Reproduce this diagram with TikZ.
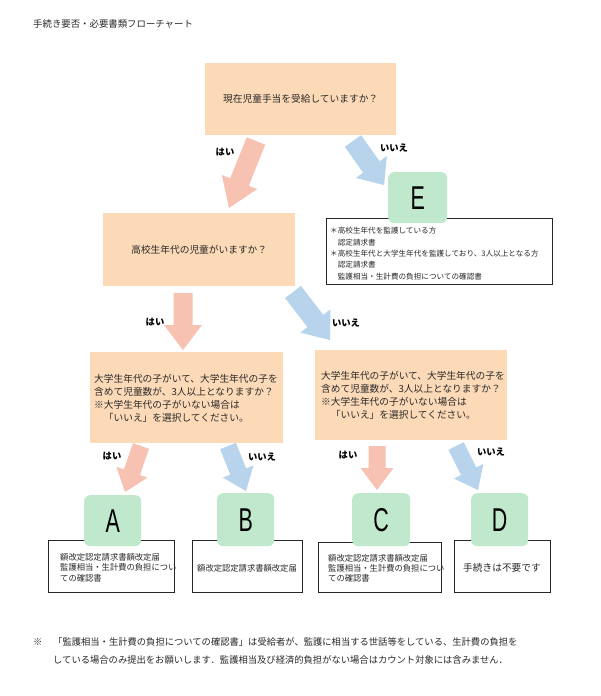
\documentclass[tikz,border=0pt]{standalone}
\usepackage{fontspec}
\usepackage{graphicx}
\setmainfont{Noto Sans CJK JP}
\newfontfamily\letterfont{Liberation Sans}
\usetikzlibrary{calc}
\definecolor{peach}{RGB}{252,218,184}
\definecolor{pinkarrow}{RGB}{248,194,178}
\definecolor{bluearrow}{RGB}{184,211,236}
\definecolor{mint}{RGB}{192,232,205}
\definecolor{textgray}{RGB}{40,40,40}
\newcommand{\blockarrow}[6]{% color, tail, tip, shaft half width, head half width, head length
  \coordinate (ba-base) at ($(#3)!#6!(#2)$);
  \fill[#1] ($(#2)!#4!90:(#3)$) -- ($(ba-base)!#4!90:(#3)$) -- ($(ba-base)!#5!90:(#3)$) -- (#3)
    -- ($(ba-base)!#5!-90:(#3)$) -- ($(ba-base)!#4!-90:(#3)$) -- ($(#2)!#4!-90:(#3)$) -- cycle;
}
\begin{document}
\begin{tikzpicture}[x=1pt,y=-1pt,
  qbox/.style={fill=peach, draw=none, inner sep=0pt, anchor=north west},
  docbox/.style={draw=black!85, line width=0.8pt, fill=white, inner sep=0pt, anchor=north west},
  letterbox/.style={fill=mint, rounded corners=6pt, inner sep=0pt, anchor=north west,
    font=\letterfont\fontsize{33}{33}\selectfont},
  lbl/.style={font=\fontsize{9.3}{9.3}\selectfont\bfseries, inner sep=0pt},
  qtext/.style={font=\fontsize{9.7}{9.7}\selectfont, text=textgray, inner sep=0pt},
  ltext/.style={font=\fontsize{9.7}{9.7}\selectfont, text=textgray, inner sep=0pt, anchor=west},
  etext/.style={font=\fontsize{7.6}{7.6}\selectfont, text=textgray, inner sep=0pt, anchor=west},
  dtext/.style={font=\fontsize{8.3}{8.3}\selectfont, text=textgray, inner sep=0pt, anchor=west},
  ftext/.style={font=\fontsize{9.3}{9.3}\selectfont, text=textgray, inner sep=0pt, anchor=west}
]
\useasboundingbox[fill=white] (0,0) rectangle (600,696);

% title
\node[ftext, font=\fontsize{9.4}{9.4}\selectfont] (title) at (33,24) {手続き要否・必要書類フローチャート};

% question boxes
\node[qbox, minimum width=191pt, minimum height=72pt] (q1) at (205,63) {};
\node[qtext] (q1t) at (q1.center) {現在児童手当を受給していますか？};

\node[qbox, minimum width=192pt, minimum height=73pt] (q2) at (103,213) {};
\node[qtext] (q2t) at (q2.center) {高校生年代の児童がいますか？};

\node[qbox, minimum width=193pt, minimum height=91pt] (q3l) at (90,352) {};
\node[ltext] (q3l1) at (94,379) {大学生年代の子がいて、大学生年代の子を};
\node[ltext] (q3l2) at (94,392) {含めて児童数が、3人以上となりますか？};
\node[ltext] (q3l3) at (94,405) {※大学生年代の子がいない場合は};
\node[ltext] (q3l4) at (94,418) {\hspace*{9.7pt}「いいえ」を選択してください。};

\node[qbox, minimum width=192pt, minimum height=90pt] (q3r) at (315,350) {};
\node[ltext] (q3r1) at (321,376) {大学生年代の子がいて、大学生年代の子を};
\node[ltext] (q3r2) at (321,389) {含めて児童数が、3人以上となりますか？};
\node[ltext] (q3r3) at (321,402) {※大学生年代の子がいない場合は};
\node[ltext] (q3r4) at (321,415) {\hspace*{9.7pt}「いいえ」を選択してください。};

% E
\node[docbox, minimum width=226pt, minimum height=66pt] (edoc) at (326,218) {};
\node[letterbox, minimum width=59pt, minimum height=51pt] (E) at (388,172) {\scalebox{0.65}[1]{E}};
\node[etext] (e1) at (330,231) {＊高校生年代を監護している方};
\node[etext] (e2) at (330,242.3) {\hspace*{7.6pt}認定請求書};
\node[etext] (e3) at (330,253.6) {＊高校生年代と大学生年代を監護しており、3人以上となる方};
\node[etext] (e4) at (330,264.9) {\hspace*{7.6pt}認定請求書};
\node[etext] (e5) at (330,276.2) {\hspace*{7.6pt}監護相当・生計費の負担についての確認書};

% A
\node[docbox, minimum width=126pt, minimum height=52pt] (adoc) at (48,540) {};
\node[letterbox, minimum width=57pt, minimum height=51pt] (A) at (84,495) {\scalebox{0.65}[1]{A}};
\node[dtext] (a1) at (60,557) {額改定認定請求書額改定届};
\node[dtext] (a2) at (60,567.5) {監護相当・生計費の負担につい};
\node[dtext] (a3) at (60,578) {ての確認書};

% B
\node[docbox, minimum width=110pt, minimum height=52pt] (bdoc) at (192,540) {};
\node[letterbox, minimum width=57pt, minimum height=53pt] (B) at (217,493) {\scalebox{0.65}[1]{B}};
\node[dtext] (b1) at (197,568) {額改定認定請求書額改定届};

% C
\node[docbox, minimum width=123pt, minimum height=50pt] (cdoc) at (318,542) {};
\node[letterbox, minimum width=58pt, minimum height=53pt] (C) at (352,493) {\scalebox{0.65}[1]{C}};
\node[dtext] (c1) at (328,558) {額改定認定請求書額改定届};
\node[dtext] (c2) at (328,568) {監護相当・生計費の負担につい};
\node[dtext] (c3) at (328,578) {ての確認書};

% D
\node[docbox, minimum width=96pt, minimum height=52pt] (ddoc) at (454,540) {};
\node[letterbox, minimum width=57pt, minimum height=53pt] (D) at (471,493) {\scalebox{0.65}[1]{D}};
\node[ltext] (d1) at (463,568) {手続きは不要です};

% arrows
\coordinate (t1y) at (256,141); \coordinate (h1y) at (229,208);
\coordinate (t1n) at (353,141); \coordinate (h1n) at (384,185);
\coordinate (t2y) at (183,293); \coordinate (h2y) at (183,350);
\coordinate (t2n) at (293,292); \coordinate (h2n) at (330,340);
\coordinate (tay) at (141,446); \coordinate (hay) at (125,492);
\coordinate (tbn) at (228,446); \coordinate (hbn) at (246,491);
\coordinate (tcy) at (377,446); \coordinate (hcy) at (377,490);
\coordinate (tdn) at (456,446); \coordinate (hdn) at (478,490);

\blockarrow{pinkarrow}{t1y}{h1y}{10pt}{19pt}{28pt}
\blockarrow{bluearrow}{t1n}{h1n}{10pt}{19pt}{22pt}
\blockarrow{pinkarrow}{t2y}{h2y}{9.5pt}{19pt}{25pt}
\blockarrow{bluearrow}{t2n}{h2n}{10pt}{19pt}{24pt}
\blockarrow{pinkarrow}{tay}{hay}{8.5pt}{16.5pt}{21pt}
\blockarrow{bluearrow}{tbn}{hbn}{8.5pt}{16.5pt}{21pt}
\blockarrow{pinkarrow}{tcy}{hcy}{8.5pt}{16.5pt}{22pt}
\blockarrow{bluearrow}{tdn}{hdn}{8.5pt}{16.5pt}{21pt}

% labels
\node[lbl] (l1y) at (225,152) {はい};
\node[lbl] (l1n) at (394,148) {いいえ};
\node[lbl] (l2y) at (155,322) {はい};
\node[lbl] (l2n) at (346,323) {いいえ};
\node[lbl] (lay) at (112,456) {はい};
\node[lbl] (lbn) at (262,457) {いいえ};
\node[lbl] (lcy) at (348,455) {はい};
\node[lbl] (ldn) at (491,452) {いいえ};

% footer
\node[ftext] (f0) at (33,642) {※};
\node[ftext] (f1) at (53,642) {「監護相当・生計費の負担についての確認書」は受給者が、監護に相当する世話等をしている、生計費の負担を};
\node[ftext] (f2) at (53,660) {している場合のみ提出をお願いします．監護相当及び経済的負担がない場合はカウント対象には含みません．};
\end{tikzpicture}
\end{document}
